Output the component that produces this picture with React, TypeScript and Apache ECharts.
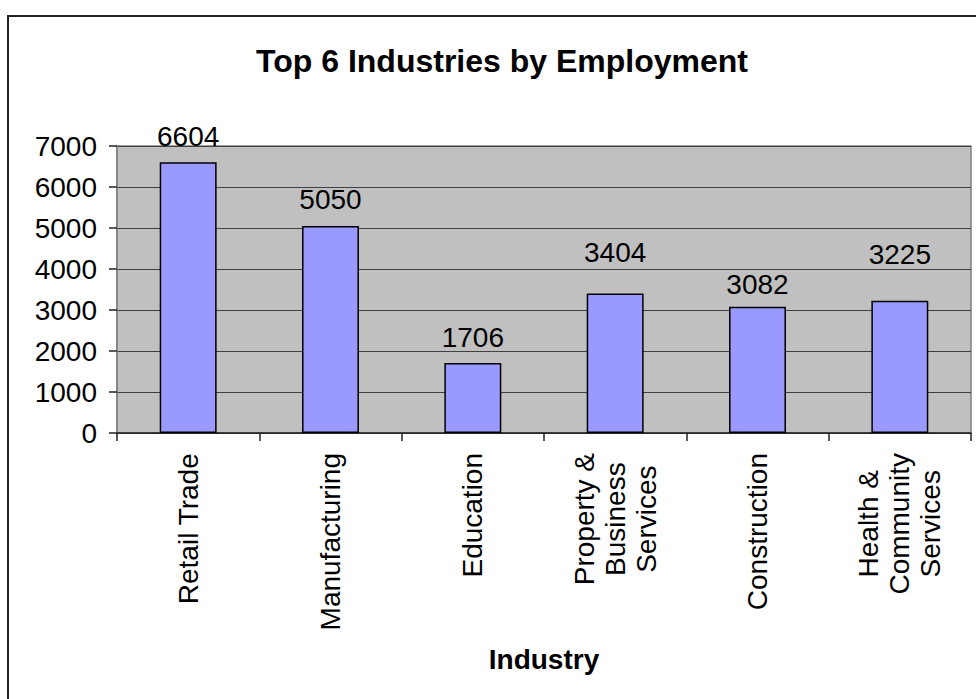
import React, { useEffect, useRef } from "react";
import * as echarts from "echarts";

const titleText = "Top 6 Industries by Employment";
const xAxisTitle = "Industry";
const categories = [
  "Retail Trade",
  "Manufacturing",
  "Education",
  "Property &\nBusiness\nServices",
  "Construction",
  "Health &\nCommunity\nServices",
];
const employment = [6604, 5050, 1706, 3404, 3082, 3225];
const yMin = 0;
const yMax = 7000;
const yInterval = 1000;

const FONT = '"Liberation Sans", Arial, sans-serif';

export default function App() {
  const ref = useRef<HTMLDivElement>(null);
  useEffect(() => {
    if (!ref.current) return;
    const chart = echarts.init(ref.current, null, { renderer: "svg" });
    const labelDistance = [12, 12, 12, 27, 8, 32];
    chart.setOption({
      animation: false,
      backgroundColor: "#ffffff",
      textStyle: { fontFamily: FONT },
      title: {
        text: titleText,
        left: 497,
        textAlign: "center",
        top: 40,
        textStyle: { fontFamily: FONT, fontSize: 32, fontWeight: "bold", color: "#000" },
      },
      graphic: [
        {
          type: "rect",
          shape: { x: 8, y: 16, width: 1200, height: 1200 },
          style: { fill: "none", stroke: "#222", lineWidth: 2 },
          silent: true,
        },
      ],
      grid: {
        left: 117,
        right: 5,
        top: 146,
        bottom: 266,
        show: true,
        backgroundColor: "#C0C0C0",
        borderColor: "#808080",
        borderWidth: 1.5,
        containLabel: false,
      },
      xAxis: {
        type: "category",
        data: categories,
        name: xAxisTitle,
        nameLocation: "middle",
        nameGap: 212,
        nameTextStyle: { fontFamily: FONT, fontSize: 28, fontWeight: "bold", color: "#000" },
        axisLine: { show: true, lineStyle: { color: "#222", width: 1.5 } },
        axisTick: { show: true, length: 8, lineStyle: { color: "#222", width: 1.5 } },
        axisLabel: {
          rotate: 90,
          interval: 0,
          margin: 20,
          fontFamily: FONT,
          fontSize: 28,
          lineHeight: 31,
          color: "#000",
          formatter: (v: string) =>
            v
              .split("\n")
              .map((s) => `{c|${s}}`)
              .join("\n"),
          rich: {
            c: {
              align: "center",
              fontFamily: FONT,
              fontSize: 28,
              lineHeight: 31,
              color: "#000",
            },
          },
        },
        splitLine: { show: false },
      },
      yAxis: {
        type: "value",
        min: yMin,
        max: yMax,
        interval: yInterval,
        axisLine: { show: true, lineStyle: { color: "#808080", width: 1.5 } },
        axisTick: { show: true, length: 8, lineStyle: { color: "#222", width: 1.5 } },
        axisLabel: {
          margin: 20,
          fontFamily: FONT,
          fontSize: 28,
          color: "#000",
          formatter: (v: number) => String(v),
        },
        splitLine: { show: true, lineStyle: { color: "#404040", width: 1.2 } },
      },
      series: [
        {
          type: "bar",
          barWidth: "40%",
          data: employment.map((v, i) => ({
            value: v,
            label: { distance: labelDistance[i] },
          })),
          itemStyle: { color: "#9999FF", borderColor: "#000", borderWidth: 1.5 },
          label: {
            show: true,
            position: "top",
            fontFamily: FONT,
            fontSize: 28,
            color: "#000",
          },
        },
      ],
    });
    return () => chart.dispose();
  }, []);
  return (
    <div
      ref={ref}
      style={{ position: "absolute", left: 0, top: 0, width: 976, height: 699 }}
    />
  );
}
